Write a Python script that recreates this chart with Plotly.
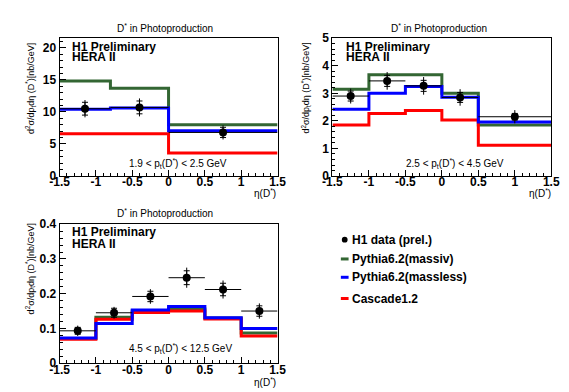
import plotly.graph_objects as go

# ---------------- data ----------------
panel_titles = ["D<sup>*</sup> in Photoproduction"] * 3
pt_labels = ["1.9 < p<sub>t</sub>(D<sup>*</sup>) < 2.5 GeV",
             "2.5 < p<sub>t</sub>(D<sup>*</sup>) < 4.5 GeV",
             "4.5 < p<sub>t</sub>(D<sup>*</sup>) < 12.5 GeV"]

edges_1 = [-1.5, -0.8, 0.0, 1.5]
h1_1 = [10.5, 10.7, 6.8]
stat_1 = [1.0, 1.0, 0.8]
tot_1 = [1.35, 1.4, 1.1]
massive_1 = [14.8, 13.7, 8.0]
massless_1 = [10.4, 10.6, 7.05]
cascade_1 = [6.6, 6.6, 3.6]

edges_2 = [-1.5, -1.0, -0.5, 0.0, 0.5, 1.5]
h1_2 = [2.9, 3.45, 3.27, 2.85, 2.15]
stat_2 = [0.18, 0.2, 0.2, 0.18, 0.12]
tot_2 = [0.27, 0.32, 0.32, 0.3, 0.24]
massive_2 = [3.15, 3.67, 3.67, 3.0, 1.85]
massless_2 = [2.42, 3.0, 3.25, 2.86, 1.96]
cascade_2 = [1.85, 2.27, 2.38, 2.03, 1.12]

edges_3 = [-1.5, -1.0, -0.5, 0.0, 0.5, 1.0, 1.5]
h1_3 = [0.093, 0.145, 0.192, 0.246, 0.212, 0.150]
stat_3 = [0.010, 0.013, 0.015, 0.020, 0.018, 0.015]
tot_3 = [0.015, 0.017, 0.021, 0.029, 0.026, 0.022]
massive_3 = [0.071, 0.132, 0.150, 0.156, 0.130, 0.0865]
massless_3 = [0.072, 0.114, 0.153, 0.163, 0.131, 0.0995]
cascade_3 = [0.069, 0.126, 0.146, 0.150, 0.127, 0.078]

x_tick_vals = [-1.5, -1.0, -0.5, 0.0, 0.5, 1.0, 1.5]
x_tick_text = ["-1.5", "-1", "-0.5", "0", "0.5", "1", "1.5"]
y_tick_vals_1 = [0, 5, 10, 15, 20]
y_tick_vals_2 = [0, 1, 2, 3, 4, 5]
y_tick_vals_3 = [0, 0.1, 0.2, 0.3, 0.4]
y_tick_text_3 = ["0", "0.1", "0.2", "0.3", "0.4"]
y_ranges = [[0, 21.5], [0, 5], [0, 0.4]]
y_minor = [1, 0.2, 0.02]

series_names = ["H1 data (prel.)", "Pythia6.2(massiv)", "Pythia6.2(massless)", "Cascade1.2"]
colors = {"massive": "#336633", "massless": "#0000ff", "cascade": "#ff0000"}

# ---------------- layout helpers ----------------
W, H = 569, 392
def px(x):
    return x / W
def py(y):
    return 1 - y / H

FONT = "Liberation Sans"
fig = go.Figure()

panels = [
    dict(edges=edges_1, h1=h1_1, stat=stat_1, tot=tot_1, models=[massive_1, massless_1, cascade_1],
         xd=[px(43), px(268.5)], yd=[py(167), py(24)]),
    dict(edges=edges_2, h1=h1_2, stat=stat_2, tot=tot_2, models=[massive_2, massless_2, cascade_2],
         xd=[px(325.3), px(551.7)], yd=[py(167), py(24)]),
    dict(edges=edges_3, h1=h1_3, stat=stat_3, tot=tot_3, models=[massive_3, massless_3, cascade_3],
         xd=[px(43), px(268.5)], yd=[py(361), py(217)]),
]

for i, p in enumerate(panels):
    xa = "x" if i == 0 else f"x{i+1}"
    ya = "y" if i == 0 else f"y{i+1}"
    edges = p["edges"]
    # draw order: massive, cascade, massless
    for vals, col in [(p["models"][0], colors["massive"]),
                      (p["models"][2], colors["cascade"]),
                      (p["models"][1], colors["massless"])]:
        fig.add_trace(go.Scatter(x=edges, y=list(vals) + [vals[-1]], mode="lines",
                                 line=dict(color=col, width=3, shape="hv"),
                                 xaxis=xa, yaxis=ya, showlegend=False, hoverinfo="skip"))
    centers = [(edges[k] + edges[k + 1]) / 2 for k in range(len(edges) - 1)]
    halfw = [(edges[k + 1] - edges[k]) / 2 for k in range(len(edges) - 1)]
    # total errors + bin width
    fig.add_trace(go.Scatter(x=centers, y=p["h1"], mode="markers",
                             marker=dict(color="black", size=8),
                             error_x=dict(type="data", array=halfw, width=0, thickness=1, color="black"),
                             error_y=dict(type="data", array=p["tot"], width=0, thickness=1, color="black"),
                             xaxis=xa, yaxis=ya, showlegend=False))
    # stat crossbars
    fig.add_trace(go.Scatter(x=centers, y=p["h1"], mode="markers",
                             marker=dict(color="black", size=1, opacity=0),
                             error_y=dict(type="data", array=p["stat"], width=3, thickness=1, color="black"),
                             xaxis=xa, yaxis=ya, showlegend=False, hoverinfo="skip"))

axis_common = dict(showline=True, linecolor="black", linewidth=1, mirror=True,
                   ticks="inside", ticklen=6, tickwidth=1, tickcolor="black",
                   showgrid=False, zeroline=False,
                   tickfont=dict(family=FONT, size=12, color="black", weight="bold"))

ytv = [y_tick_vals_1, y_tick_vals_2, y_tick_vals_3]
ytt = [[str(v) for v in y_tick_vals_1], [str(v) for v in y_tick_vals_2], y_tick_text_3]
layout = {}
for i, p in enumerate(panels):
    sx = "xaxis" if i == 0 else f"xaxis{i+1}"
    sy = "yaxis" if i == 0 else f"yaxis{i+1}"
    ya = "y" if i == 0 else f"y{i+1}"
    xa = "x" if i == 0 else f"x{i+1}"
    layout[sx] = dict(axis_common, domain=p["xd"], anchor=ya, range=[-1.5, 1.5],
                      tickmode="array", tickvals=x_tick_vals, ticktext=x_tick_text,
                      ticklabelstandoff=-5,
                      minor=dict(ticks="inside", ticklen=3, tickcolor="black", dtick=0.1, tick0=-1.5, showgrid=False))
    layout[sy] = dict(axis_common, domain=p["yd"], anchor=xa, range=y_ranges[i],
                      tickmode="array", tickvals=ytv[i], ticktext=ytt[i],
                      minor=dict(ticks="inside", ticklen=3, tickcolor="black", dtick=y_minor[i], tick0=0, showgrid=False))

ann = []
def text(x, y, t, size=10, bold=False, xanchor="center", yanchor="middle", angle=0):
    ann.append(dict(x=px(x), y=py(y), xref="paper", yref="paper", text=t, showarrow=False,
                    xanchor=xanchor, yanchor=yanchor, textangle=angle, borderpad=0,
                    font=dict(family=FONT, size=size, color="black", weight="bold" if bold else "normal")))

title_pos = [(152, 14), (436, 14), (152, 205)]
h1_pos = [(55, 33, 44), (338, 33, 44), (55, 225, 237)]
pt_pos = [(166, 154), (452, 154), (168, 346)]
xt_pos = [(268, 185), (552, 185), (268, 381)]
yt_pos = [(13, 28), (298, 28), (13, 215)]
ytitle = "d<sup>2</sup>σ/dp<sub>t</sub>dη (D<sup>*</sup>)[nb/GeV]"
for i in range(3):
    text(*title_pos[i], panel_titles[i], size=10)
    text(h1_pos[i][0], h1_pos[i][1], "H1 Preliminary", size=12, bold=True, xanchor="left")
    text(h1_pos[i][0], h1_pos[i][2], "HERA II", size=12, bold=True, xanchor="left")
    text(*pt_pos[i], pt_labels[i], size=10)
    text(*xt_pos[i], "η(D<sup>*</sup>)", size=10, xanchor="right")
    text(*yt_pos[i], ytitle, size=9, yanchor="top", angle=-90)

# custom legend
leg_y = [233, 253, 272, 294]
for name, yy in zip(series_names, leg_y):
    text(344, yy, name, size=12, bold=True, xanchor="left")
shapes = [dict(type="circle", xref="paper", yref="paper", x0=px(335), x1=px(341), y0=py(236), y1=py(230),
               fillcolor="black", line=dict(color="black", width=0))]
for col, yy in zip([colors["massive"], colors["massless"], colors["cascade"]], leg_y[1:]):
    shapes.append(dict(type="line", xref="paper", yref="paper", x0=px(334), x1=px(342), y0=py(yy), y1=py(yy),
                       line=dict(color=col, width=3)))

fig.update_layout(width=W, height=H, margin=dict(l=0, r=0, t=0, b=0),
                  paper_bgcolor="white", plot_bgcolor="white",
                  annotations=ann, shapes=shapes, showlegend=False, **layout)
fig.write_html("out.html")
